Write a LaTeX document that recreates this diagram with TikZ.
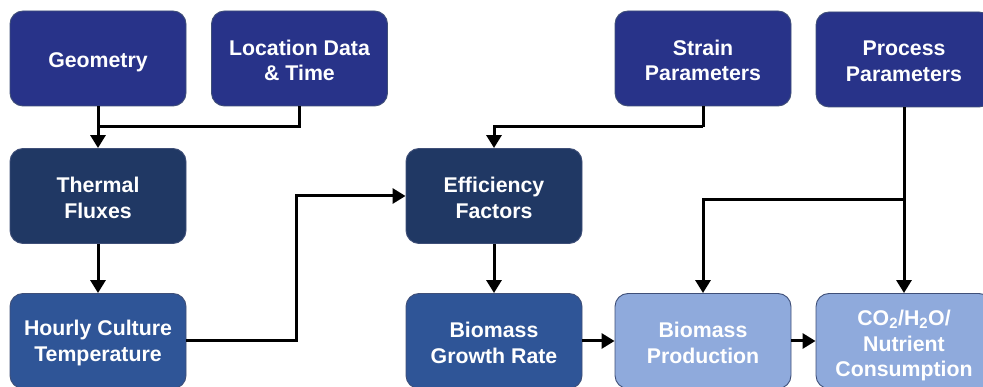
\documentclass[tikz,border=0pt]{standalone}
\usepackage{fontspec}
\setmainfont{Liberation Sans}
\usetikzlibrary{arrows.meta}
\definecolor{cTop}{HTML}{283389}
\definecolor{cMid}{HTML}{203864}
\definecolor{cLow}{HTML}{2F5597}
\definecolor{cLight}{HTML}{8FAADC}
\definecolor{cBorder}{HTML}{3F4F78}
\tikzset{
  box/.style={rounded corners=13pt, draw=cBorder, line width=0.9pt, minimum width=176pt, minimum height=95pt, inner sep=0pt},
  topbox/.style={box, fill=cTop},
  midbox/.style={box, fill=cMid},
  lowbox/.style={box, fill=cLow},
  lightbox/.style={box, fill=cLight},
  lbl/.style={text=white, align=center, font=\fontsize{21.3}{25.6}\selectfont\bfseries, inner sep=0pt},
  conn/.style={line width=3pt, draw=black},
  arr/.style={conn, -{Triangle[width=15pt,length=13pt]}},
}
\begin{document}
\begin{tikzpicture}[x=1pt,y=-1pt]
\path[use as bounding box] (0,0) rectangle (983,387);
\clip (0,0) rectangle (983,387);
\node[topbox] (geo) at (98,58.5) {};
\node[topbox] (loc) at (299.5,58.5) {};
\node[midbox] (therm) at (98,196) {};
\node[lowbox] (hour) at (98,341) {};
\node[midbox] (eff) at (494,196) {};
\node[lowbox] (grow) at (494,341) {};
\node[topbox] (strain) at (703,58.5) {};
\node[topbox] (proc) at (904,59.5) {};
\node[lightbox] (prod) at (703,341) {};
\node[lightbox] (cons) at (904,341) {};
\node[lbl] (geoT) at ([yshift=-4pt]geo.center) {Geometry};
\node[lbl] (locT) at ([yshift=-2pt]loc.center) {Location Data\\\& Time};
\node[lbl] (thermT) at ([yshift=-2pt]therm.center) {Thermal\\Fluxes};
\node[lbl] (hourT) at ([yshift=-2pt]hour.center) {Hourly Culture\\Temperature};
\node[lbl] (effT) at ([yshift=-2pt]eff.center) {Efficiency\\Factors};
\node[lbl] (growT) at ([yshift=-2pt]grow.center) {Biomass\\Growth Rate};
\node[lbl] (strainT) at ([yshift=-2pt]strain.center) {Strain\\Parameters};
\node[lbl] (procT) at ([yshift=-2pt]proc.center) {Process\\Parameters};
\node[lbl] (prodT) at ([yshift=-2pt]prod.center) {Biomass\\Production};
\node[lbl] (consT) at ([yshift=-4.5pt]cons.center) {CO\textsubscript{2}/H\textsubscript{2}O/\\Nutrient\\Consumption};
\coordinate (j1) at (98,127);
\coordinate (j2) at (703,127);
\coordinate (j3) at (904,200);
\draw[arr] (geo.south) -- (therm.north);
\draw[conn] (loc.south) |- (j1);
\draw[arr] (therm.south) -- (hour.north);
\draw[arr] (hour.east) -- ++(110,0) |- (eff.west);
\draw[conn] (strain.south) -- (j2);
\draw[arr] (j2) -| (eff.north);
\draw[arr] (eff.south) -- (grow.north);
\draw[arr] (grow.east) -- (prod.west);
\draw[arr] (prod.east) -- (cons.west);
\draw[arr] (proc.south) -- (cons.north);
\draw[arr] (j3) -| (prod.north);
\end{tikzpicture}
\end{document}
